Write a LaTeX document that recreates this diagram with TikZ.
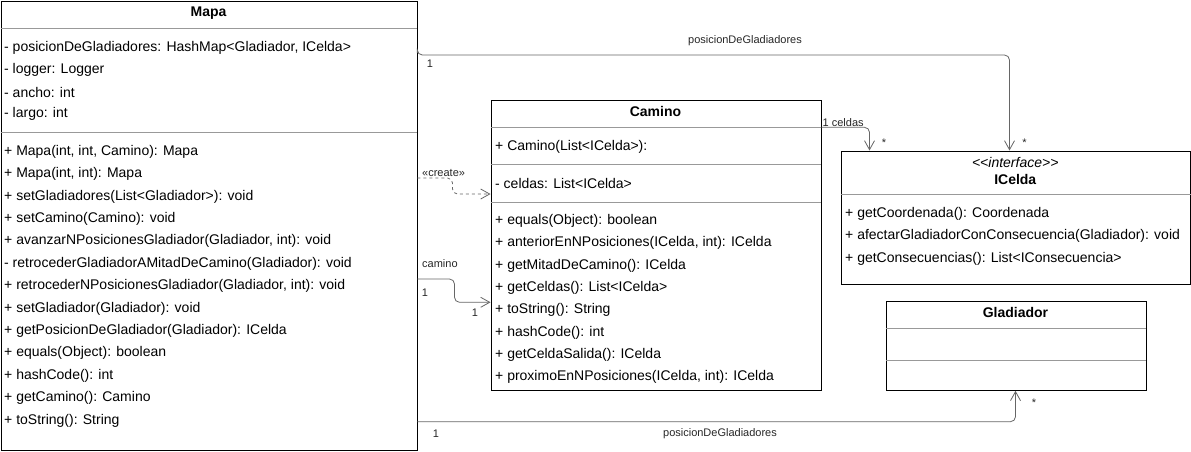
\documentclass[tikz,border=0pt]{standalone}
\usepackage{fontspec}
\setmainfont{Liberation Sans}
\usetikzlibrary{arrows.meta}

\begin{document}
\begin{tikzpicture}[x=1pt,y=-1pt,>={Straight Barb[length=9pt,width=10pt]},
  every node/.style={inner sep=0pt,font=\fontsize{14}{16}\selectfont},
  cls/.style={draw,anchor=north west,line width=0.8pt},
  title/.style={font=\fontsize{14}{16}\selectfont\bfseries},
  sep/.style={draw=black!40,line width=0.8pt},
  row/.style={anchor=west},
  lbl/.style={font=\fontsize{11}{13}\selectfont,text=black!85},
  link/.style={->,draw=black!60,line width=0.8pt,rounded corners=5pt}]
  \useasboundingbox (0,0) rectangle (1191,451);

  % Mapa
  \node[cls,minimum width=416pt,minimum height=449pt] (1) at (0.5,0.5) {};
  \node[title] (1t) at (208.5,13) {Mapa};
  \draw[sep] (1.west |- 0,28) -- (1.east |- 0,28);
  \draw[sep] (1.west |- 0,132.3) -- (1.east |- 0,132.3);
  \foreach \t [count=\i] in {{- posicionDeGladiadores: HashMap<Gladiador, ICelda>},
      {- logger: Logger},{- ancho: int},{- largo: int}}
    \node[row] (1a\i) at (4,25.5+22.2*\i) {\t};
  \foreach \t [count=\i] in {{+ Mapa(int, int, Camino): Mapa},{+ Mapa(int, int): Mapa},
      {+ setGladiadores(List<Gladiador>): void},{+ setCamino(Camino): void},
      {+ avanzarNPosicionesGladiador(Gladiador, int): void},
      {- retrocederGladiadorAMitadDeCamino(Gladiador): void},
      {+ retrocederNPosicionesGladiador(Gladiador, int): void},
      {+ setGladiador(Gladiador): void},{+ getPosicionDeGladiador(Gladiador): ICelda},
      {+ equals(Object): boolean},{+ hashCode(): int},{+ getCamino(): Camino},
      {+ toString(): String}}
    \node[row] (1m\i) at (4,129.3+22.4*\i) {\t};

  % Camino
  \node[cls,minimum width=330pt,minimum height=290.5pt] (2) at (490.5,99.5) {};
  \node[title] (2t) at (655.5,111) {Camino};
  \draw[sep] (2.west |- 0,127) -- (2.east |- 0,127);
  \draw[sep] (2.west |- 0,164.7) -- (2.east |- 0,164.7);
  \draw[sep] (2.west |- 0,202.3) -- (2.east |- 0,202.3);
  \node[row] (2c) at (495,146.7) {+ Camino(List<ICelda>):};
  \node[row] (2a) at (495,183.3) {- celdas: List<ICelda>};
  \foreach \t [count=\i] in {{+ equals(Object): boolean},
      {+ anteriorEnNPosiciones(ICelda, int): ICelda},{+ getMitadDeCamino(): ICelda},
      {+ getCeldas(): List<ICelda>},{+ toString(): String},{+ hashCode(): int},
      {+ getCeldaSalida(): ICelda},{+ proximoEnNPosiciones(ICelda, int): ICelda}}
    \node[row] (2m\i) at (495,198.67+22.33*\i) {\t};

  % ICelda
  \node[cls,minimum width=349.5pt,minimum height=133pt] (3) at (840.5,150.5) {};
  \node[font=\fontsize{14}{16}\selectfont\itshape] (3s) at (1015.25,162.7)
    {<\kern0pt<interface>\kern0pt>};
  \node[title] (3t) at (1015.25,179.3) {ICelda};
  \draw[sep] (3.west |- 0,194.7) -- (3.east |- 0,194.7);
  \foreach \t [count=\i] in {{+ getCoordenada(): Coordenada},
      {+ afectarGladiadorConConsecuencia(Gladiador): void},
      {+ getConsecuencias(): List<IConsecuencia>}}
    \node[row] (3m\i) at (845,191.7+22.3*\i) {\t};

  % Gladiador
  \node[cls,minimum width=260pt,minimum height=89.5pt] (4) at (885.5,300.5) {};
  \node[title] (4t) at (1015.5,312.3) {Gladiador};
  \draw[sep] (4.west |- 0,328.3) -- (4.east |- 0,328.3);
  \draw[sep] (4.west |- 0,360.3) -- (4.east |- 0,360.3);

  % associations
  \coordinate (c1) at (1009.5,55);
  \draw[link] (1.east |- 0,53) -- (1.east |- c1) -- (c1) -- (c1 |- 3.north);
  \node[lbl] (l1) at (745,41) {posicionDeGladiadores};
  \node[lbl] (l1a) at (430,64) {1};
  \node[lbl] (l1b) at (1024.5,143) {*};

  \coordinate (c2) at (869.5,127.3);
  \draw[link] (2.east |- c2) -- (c2) -- (c2 |- 3.north);
  \node[lbl,anchor=west] (l2) at (822.5,123) {1 celdas};
  \node[lbl] (l2b) at (884,143) {*};

  \coordinate (c3) at (452.5,178);
  \draw[link,dashed,dash pattern=on 3pt off 3pt] (1.east |- c3) -- (c3) -- (c3 |- 0,194)
    -- (2.west |- 0,194);
  \node[lbl,anchor=west] (l3) at (422,173.3) {«create»};

  \coordinate (c4) at (454.5,279);
  \draw[link] (1.east |- c4) -- (c4) -- (c4 |- 0,302.3) -- (2.west |- 0,302.3);
  \node[lbl,anchor=west] (l4) at (422,263.3) {camino};
  \node[lbl] (l4a) at (425,293) {1};
  \node[lbl] (l4b) at (475,313) {1};

  \coordinate (c5) at (1015.5,421.7);
  \draw[link] (1.east |- c5) -- (c5) -- (c5 |- 4.south);
  \node[lbl] (l5) at (720,433.3) {posicionDeGladiadores};
  \node[lbl] (l5a) at (436,433.3) {1};
  \node[lbl] (l5b) at (1034,403) {*};
\end{tikzpicture}
\end{document}
